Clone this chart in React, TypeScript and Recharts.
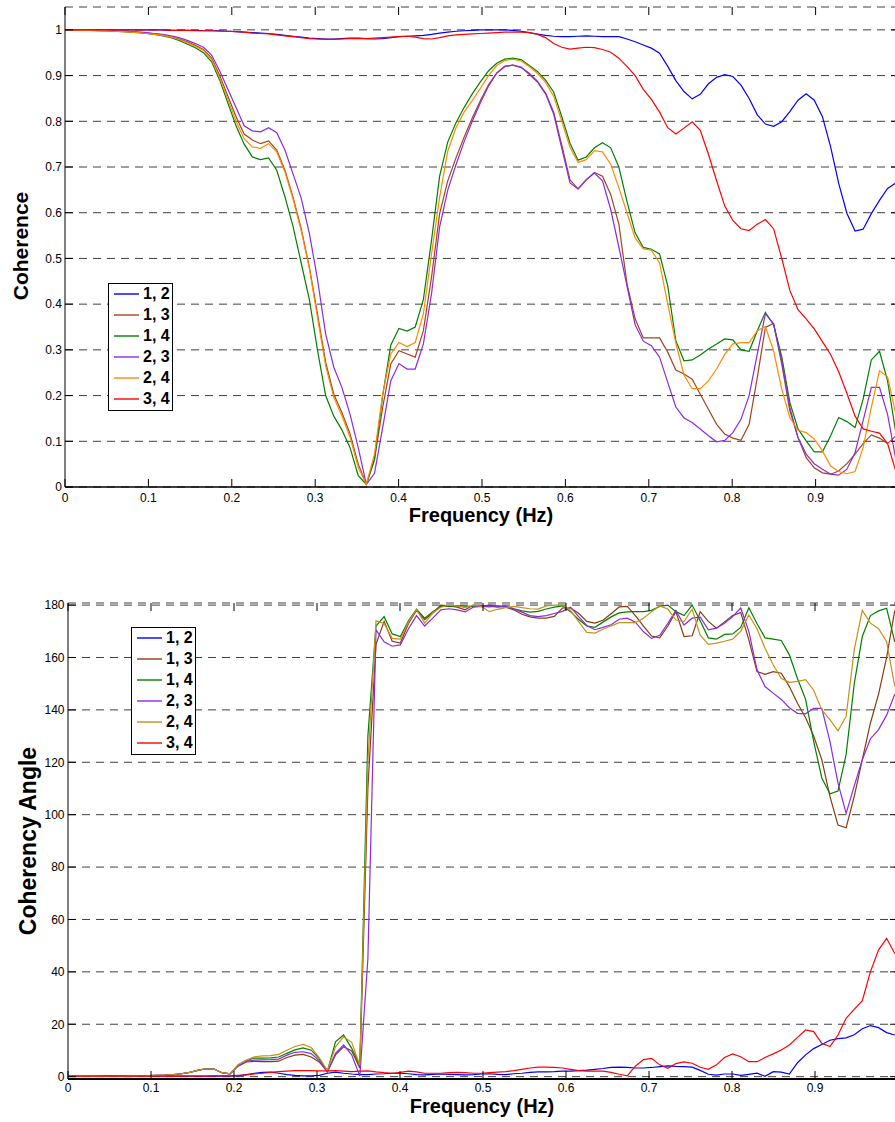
import React from 'react';
import { LineChart, Line, XAxis, YAxis, CartesianGrid, Legend, Label } from 'recharts';

const FONT = '"Liberation Sans", Arial, Helvetica, sans-serif';

// Frequency bins (Hz)
const FREQ = [0, 0.0098, 0.0195, 0.0293, 0.0391, 0.0488, 0.0586, 0.0684, 0.0781, 0.0879,
  0.0977, 0.1074, 0.1172, 0.127, 0.1367, 0.1465, 0.1563, 0.166, 0.1758, 0.1855,
  0.1953, 0.2051, 0.2148, 0.2246, 0.2344, 0.2441, 0.2539, 0.2637, 0.2734, 0.2832,
  0.293, 0.3027, 0.3125, 0.3223, 0.332, 0.3418, 0.3516, 0.3613, 0.3711, 0.3809,
  0.3906, 0.4004, 0.4102, 0.4199, 0.4297, 0.4395, 0.4492, 0.459, 0.4688, 0.4785,
  0.4883, 0.498, 0.5078, 0.5176, 0.5273, 0.5371, 0.5469, 0.5566, 0.5664, 0.5762,
  0.5859, 0.5957, 0.6055, 0.6152, 0.625, 0.6348, 0.6445, 0.6543, 0.6641, 0.6738,
  0.6836, 0.6934, 0.7031, 0.7129, 0.7227, 0.7324, 0.7422, 0.752, 0.7617, 0.7715,
  0.7813, 0.791, 0.8008, 0.8105, 0.8203, 0.8301, 0.8398, 0.8496, 0.8594, 0.8691,
  0.8789, 0.8887, 0.8984, 0.9082, 0.918, 0.9277, 0.9375, 0.9473, 0.957, 0.9668,
  0.9766, 0.9863, 0.9961];

// Coherence
const COH_12 = [1, 1, 1, 1, 1, 1, 1, 1, 1, 1,
  1, 1, 1, 0.999, 0.999, 0.999, 0.999, 0.998, 0.998, 0.998,
  0.997, 0.996, 0.995, 0.994, 0.993, 0.992, 0.99, 0.988, 0.986, 0.984,
  0.982, 0.981, 0.98, 0.98, 0.981, 0.982, 0.982, 0.981, 0.98, 0.981,
  0.983, 0.985, 0.986, 0.987, 0.988, 0.99, 0.993, 0.995, 0.997, 0.998,
  0.999, 1, 1, 1, 1, 0.999, 0.997, 0.994, 0.991, 0.988,
  0.986, 0.985, 0.985, 0.986, 0.987, 0.986, 0.985, 0.985, 0.985, 0.98,
  0.974, 0.967, 0.96, 0.949, 0.92, 0.889, 0.865, 0.849, 0.859, 0.882,
  0.896, 0.902, 0.898, 0.879, 0.85, 0.814, 0.794, 0.789, 0.799, 0.821,
  0.846, 0.86, 0.846, 0.81, 0.744, 0.664, 0.599, 0.56, 0.564, 0.598,
  0.627, 0.653, 0.665];
const COH_13 = [1, 1, 1, 0.999, 0.999, 0.998, 0.998, 0.997, 0.996, 0.995,
  0.993, 0.991, 0.989, 0.985, 0.98, 0.974, 0.966, 0.957, 0.938, 0.9,
  0.855, 0.81, 0.772, 0.759, 0.751, 0.757, 0.737, 0.693, 0.634, 0.565,
  0.481, 0.379, 0.273, 0.203, 0.163, 0.116, 0.05, 0.006, 0.061, 0.174,
  0.269, 0.298, 0.291, 0.284, 0.342, 0.459, 0.598, 0.67, 0.72, 0.765,
  0.807, 0.845, 0.88, 0.906, 0.92, 0.923, 0.918, 0.905, 0.888, 0.862,
  0.82, 0.748, 0.672, 0.652, 0.672, 0.688, 0.68, 0.64, 0.575, 0.445,
  0.368, 0.326, 0.326, 0.326, 0.295, 0.256, 0.247, 0.236, 0.203, 0.17,
  0.137, 0.116, 0.107, 0.102, 0.137, 0.24, 0.349, 0.358, 0.269, 0.167,
  0.108, 0.064, 0.042, 0.031, 0.028, 0.035, 0.051, 0.072, 0.095, 0.114,
  0.107, 0.095, 0.112];
const COH_14 = [1, 1, 0.999, 0.999, 0.998, 0.998, 0.997, 0.996, 0.995, 0.994,
  0.992, 0.99, 0.987, 0.983, 0.977, 0.969, 0.961, 0.95, 0.93, 0.89,
  0.84, 0.79, 0.75, 0.722, 0.716, 0.72, 0.693, 0.635, 0.57, 0.49,
  0.41, 0.3, 0.2, 0.155, 0.125, 0.086, 0.025, 0.006, 0.06, 0.2,
  0.31, 0.347, 0.341, 0.35, 0.41, 0.54, 0.68, 0.755, 0.797, 0.83,
  0.86, 0.886, 0.91, 0.927, 0.936, 0.938, 0.935, 0.922, 0.909, 0.89,
  0.864, 0.81, 0.752, 0.715, 0.722, 0.742, 0.753, 0.742, 0.7, 0.625,
  0.556, 0.524, 0.52, 0.51, 0.44, 0.32, 0.276, 0.278, 0.289, 0.302,
  0.313, 0.324, 0.322, 0.3, 0.297, 0.342, 0.382, 0.355, 0.285, 0.185,
  0.127, 0.101, 0.077, 0.077, 0.112, 0.152, 0.143, 0.13, 0.192, 0.278,
  0.297, 0.232, 0.12];
const COH_23 = [1, 1, 1, 0.999, 0.999, 0.998, 0.998, 0.997, 0.996, 0.995,
  0.994, 0.992, 0.99, 0.987, 0.983, 0.977, 0.97, 0.962, 0.945, 0.91,
  0.87, 0.83, 0.79, 0.779, 0.777, 0.786, 0.775, 0.737, 0.685, 0.632,
  0.555, 0.455, 0.335, 0.262, 0.218, 0.159, 0.086, 0.006, 0.03, 0.13,
  0.232, 0.27, 0.258, 0.258, 0.313, 0.423, 0.569, 0.65, 0.705, 0.755,
  0.8, 0.84, 0.877, 0.905, 0.92, 0.923, 0.918, 0.903, 0.886, 0.86,
  0.816, 0.74, 0.665, 0.652, 0.672, 0.687, 0.67, 0.607, 0.525, 0.44,
  0.355, 0.319, 0.309, 0.284, 0.229, 0.175, 0.151, 0.141, 0.127, 0.112,
  0.099, 0.102, 0.119, 0.148, 0.2, 0.291, 0.379, 0.357, 0.276, 0.174,
  0.108, 0.072, 0.051, 0.039, 0.028, 0.026, 0.039, 0.075, 0.145, 0.218,
  0.218, 0.159, 0.061];
const COH_24 = [1, 1, 0.999, 0.999, 0.998, 0.998, 0.997, 0.996, 0.995, 0.994,
  0.992, 0.99, 0.988, 0.984, 0.979, 0.972, 0.964, 0.955, 0.935, 0.895,
  0.848, 0.8, 0.762, 0.744, 0.741, 0.751, 0.733, 0.689, 0.63, 0.561,
  0.478, 0.371, 0.265, 0.196, 0.156, 0.109, 0.043, 0.006, 0.072, 0.203,
  0.291, 0.316, 0.307, 0.316, 0.379, 0.51, 0.634, 0.735, 0.786, 0.82,
  0.845, 0.872, 0.9, 0.922, 0.933, 0.936, 0.932, 0.92, 0.905, 0.885,
  0.855, 0.8, 0.743, 0.71, 0.716, 0.736, 0.733, 0.706, 0.655, 0.6,
  0.545, 0.521, 0.518, 0.49, 0.4, 0.315, 0.245, 0.215, 0.215, 0.232,
  0.258, 0.29, 0.313, 0.316, 0.316, 0.342, 0.351, 0.298, 0.214, 0.152,
  0.124, 0.119, 0.105, 0.079, 0.046, 0.034, 0.029, 0.034, 0.086, 0.174,
  0.254, 0.241, 0.16];
const COH_34 = [1, 1, 1, 1, 1, 1, 1, 1, 1, 1,
  1, 1, 1, 0.999, 0.999, 0.999, 0.998, 0.998, 0.998, 0.997,
  0.997, 0.996, 0.995, 0.993, 0.992, 0.991, 0.989, 0.987, 0.985, 0.983,
  0.981, 0.98, 0.979, 0.979, 0.98, 0.981, 0.981, 0.981, 0.982, 0.983,
  0.984, 0.985, 0.986, 0.984, 0.981, 0.98, 0.983, 0.987, 0.989, 0.99,
  0.991, 0.992, 0.993, 0.994, 0.995, 0.995, 0.995, 0.994, 0.99, 0.983,
  0.97, 0.962, 0.958, 0.96, 0.962, 0.961, 0.957, 0.951, 0.938, 0.92,
  0.9, 0.87, 0.848, 0.82, 0.786, 0.772, 0.785, 0.799, 0.78, 0.728,
  0.67, 0.615, 0.583, 0.565, 0.561, 0.575, 0.585, 0.565, 0.5, 0.43,
  0.388, 0.368, 0.346, 0.318, 0.29, 0.252, 0.205, 0.155, 0.127, 0.122,
  0.118, 0.095, 0.035];

// Coherency angle (degrees)
const ANG_12 = [0.1, 0.1, 0.1, 0.1, 0.2, 0.3, 0.4, 0.3, 0.2, 0.2,
  0.2, 0.2, 0.2, 0.2, 0.2, 0.2, 0.2, 0.2, 0.2, 0.2,
  0.2, 0.3, 0.8, 1.3, 1.6, 1.7, 1.3, 0.8, 0.5, 0.3,
  0.3, 0.5, 1.3, 1.7, 1.3, 1.0, 0.8, 0.8, 1.0, 1.1,
  1.3, 1.3, 1.1, 0.8, 0.7, 0.9, 1.0, 0.9, 0.8, 0.7,
  0.8, 1.0, 1.1, 0.9, 0.8, 1.1, 1.3, 1.6, 1.8, 1.8,
  1.9, 2.1, 2.1, 2.3, 2.5, 2.8, 3.1, 3.5, 3.6, 3.5,
  3.3, 3.3, 3.5, 3.8, 4.1, 3.9, 3.8, 3.6, 2.4, 0.9,
  0.6, 1.0, 1.0, 0.5, 0.9, 1.3, 0.1, 1.9, 1.7, 1.0,
  5.3, 8.3, 10.7, 12.3, 13.9, 14.5, 14.8, 16, 18.3, 19.5,
  18.7, 16.8, 15.9];
const ANG_13 = [0.1, 0.1, 0.1, 0.1, 0.1, 0.1, 0.2, 0.2, 0.3, 0.3,
  0.4, 0.5, 0.6, 0.8, 1.1, 1.6, 2.4, 3.0, 2.9, 1.5,
  1.1, 4.0, 5.6, 5.8, 5.7, 5.7, 5.9, 7.3, 8.2, 8.5,
  7.5, 5.6, 1.8, 8.3, 11.4, 9.8, 3.3, 110, 165, 173.8,
  166.2, 165.5, 173, 178, 174.4, 177, 180, 179.7, 179.2, 178.2,
  180, 179.5, 180, 179.6, 179.2, 178.2, 176.5, 175.5, 175, 175,
  175.7, 178.9, 178.9, 176.9, 173.8, 173.1, 174.2, 176.7, 179.3, 179.5,
  176, 172, 168.2, 167.5, 172, 177.5, 168, 168.3, 177.5, 173.8,
  171.2, 173.6, 176, 177.2, 166.7, 154.6, 153.6, 154.6, 154, 148.9,
  142.5, 137, 130, 121, 107, 96, 95, 107, 121, 135,
  146, 160, 178];
const ANG_14 = [0.1, 0.1, 0.1, 0.1, 0.1, 0.1, 0.2, 0.2, 0.3, 0.3,
  0.4, 0.5, 0.6, 0.8, 1.1, 1.6, 2.4, 3.0, 2.9, 1.5,
  1.1, 4.5, 6.1, 7.1, 7.1, 7.2, 7.5, 8.9, 10.2, 11.0,
  10.1, 6.9, 2.1, 13.3, 15.9, 10.8, 4.3, 130, 172, 175.6,
  169, 168, 174, 178.4, 175, 177.5, 179.5, 179.5, 179.8, 179.6,
  179.5, 179.8, 179.6, 179.2, 179.6, 178.6, 177.8, 177.3, 177.6, 178.5,
  179.2, 179.7, 177.5, 174.5, 172, 171.5, 173.5, 175.5, 177, 177.4,
  177.5, 177.5, 178, 179.5, 180, 177.5, 176, 180, 174, 167.5,
  167, 168.8, 169, 171.5, 179, 173, 167.5, 167, 166.5, 161,
  152, 144, 128, 114, 108, 109, 123, 150, 168, 176,
  177.8, 178.8, 166];
const ANG_23 = [0.1, 0.1, 0.1, 0.1, 0.1, 0.1, 0.2, 0.2, 0.3, 0.3,
  0.4, 0.5, 0.6, 0.8, 1.1, 1.6, 2.4, 3.0, 2.9, 1.5,
  1.1, 4.2, 5.8, 6.3, 6.4, 6.5, 6.7, 8.2, 9.3, 9.5,
  8.8, 6.1, 1.8, 8.9, 12.1, 8.3, 0.2, 45, 170.5, 166,
  164.3, 164.8, 171, 176, 172, 175, 178.2, 178.6, 178.2, 177.4,
  179.2, 179.5, 179.3, 179.7, 179.5, 178.6, 177.3, 176, 175.6, 176,
  176.8, 177.6, 179.2, 175.6, 172.2, 170.6, 171.5, 172.5, 174.6, 175,
  173.5, 169.8, 167.3, 168.5, 173, 178, 172.4, 175, 175.4, 170.6,
  171.2, 173.1, 175.6, 178.9, 170, 155.3, 148.9, 146.4, 144, 140.8,
  138.7, 138.5, 140.6, 140.6, 128, 112, 100.5, 111, 121, 129,
  132.5, 138, 146];
const ANG_24 = [0.1, 0.1, 0.1, 0.1, 0.1, 0.1, 0.2, 0.2, 0.3, 0.3,
  0.4, 0.5, 0.6, 0.8, 1.1, 1.6, 2.4, 3.0, 2.9, 1.5,
  1.1, 4.5, 6.3, 7.6, 7.9, 8.0, 8.5, 10.1, 11.5, 12.3,
  11.1, 7.3, 2.3, 11.4, 15.2, 13.1, 4.3, 120, 174, 173,
  167.3, 167, 173.5, 178.3, 173.1, 177, 179.2, 180, 179.7, 179,
  180, 179.5, 177.5, 178.4, 179, 179.5, 179, 178.6, 178.5, 179.7,
  180, 180, 178, 173.7, 169.6, 169.3, 170.8, 172, 173.3, 173.3,
  173.3, 175, 177.5, 179.7, 178.5, 174.3, 173.7, 178.4, 168.5, 165,
  165.5, 166.2, 167, 170, 176.2, 171, 163.5, 157.2, 152, 150.5,
  150.9, 151.5, 147.5, 140, 136.3, 132, 137.5, 163, 178, 173.1,
  171, 166, 149];
const ANG_34 = [0.2, 0.2, 0.2, 0.2, 0.2, 0.2, 0.2, 0.2, 0.2, 0.2,
  0.2, 0.2, 0.2, 0.2, 0.2, 0.2, 0.2, 0.2, 0.3, 0.3,
  0.3, 0.5, 0.7, 1.0, 1.3, 1.6, 1.9, 2.1, 2.3, 2.3,
  2.3, 2.2, 2.2, 2.3, 2.1, 1.9, 2.1, 2.2, 1.8, 1.5,
  1.3, 1.6, 2.1, 1.8, 1.3, 1.3, 1.3, 1.5, 1.6, 1.5,
  1.3, 1.3, 1.5, 1.7, 1.9, 2.3, 2.8, 3.3, 3.6, 3.6,
  3.5, 3.3, 2.8, 2.3, 2.1, 2.1, 2.1, 1.6, 0.9, 0.3,
  4.0, 6.5, 7.0, 4.5, 3.2, 5.0, 5.6, 5.1, 3.6, 2.8,
  4.5, 7.3, 8.7, 7.6, 5.7, 5.7, 7.3, 8.7, 10.2, 12.1,
  15.0, 17.8, 17.2, 12.7, 11.5, 15.9, 22.3, 25.7, 29.0, 40.1,
  48.4, 52.8, 47];

const PAIR_NAMES = ['1, 2', '1, 3', '1, 4', '2, 3', '2, 4', '3, 4'];
const KEYS = ['p12', 'p13', 'p14', 'p23', 'p24', 'p34'];
const TOP_COLORS = ['#0000ff', '#a0461e', '#008000', '#8a2be2', '#ff8c00', '#ff0000'];
const BOT_COLORS = ['#0000ff', '#8b3a10', '#008000', '#8a2be2', '#c8901a', '#ff0000'];

const X_TICKS = [0, 0.1, 0.2, 0.3, 0.4, 0.5, 0.6, 0.7, 0.8, 0.9];
const COH_TICKS = [0, 0.1, 0.2, 0.3, 0.4, 0.5, 0.6, 0.7, 0.8, 0.9, 1];
const ANG_TICKS = [0, 20, 40, 60, 80, 100, 120, 140, 160, 180];

const COH = [COH_12, COH_13, COH_14, COH_23, COH_24, COH_34];
const ANG = [ANG_12, ANG_13, ANG_14, ANG_23, ANG_24, ANG_34];

const buildRows = (series: number[][]) =>
  FREQ.map((f, i) => {
    const row: Record<string, number> = { f };
    KEYS.forEach((k, j) => { row[k] = series[j][i]; });
    return row;
  });

const topData = buildRows(COH);
const botData = buildRows(ANG);

const fmt = (v: number) => String(v);

const makeXTick = (top: number, bottom: number, dy: number) => (props: any) => {
  const { x, payload } = props;
  return (
    <g>
      <line x1={x} x2={x} y1={bottom} y2={bottom - 8} stroke="#000" strokeWidth={1} />
      <line x1={x} x2={x} y1={top} y2={top + 8} stroke="#000" strokeWidth={1} />
      <text x={x} y={bottom + dy} textAnchor="middle" fontSize={12} fontFamily={FONT} fill="#000">
        {fmt(payload.value)}
      </text>
    </g>
  );
};

const makeYTick = (left: number, right: number, gap: number) => (props: any) => {
  const { y, payload } = props;
  return (
    <g>
      <line x1={left} x2={left + 8} y1={y} y2={y} stroke="#000" strokeWidth={1} />
      <line x1={right - 8} x2={right} y1={y} y2={y} stroke="#000" strokeWidth={1} />
      <text x={left - gap} y={y} dy={4.3} textAnchor="end" fontSize={12} fontFamily={FONT} fill="#000">
        {fmt(payload.value)}
      </text>
    </g>
  );
};

const renderLegend = (props: any) => {
  const { payload } = props;
  return (
    <div style={{ width: 63, height: 126, border: '1px solid #000', background: '#fff', position: 'relative', fontFamily: FONT }}>
      {(payload || []).map((e: any, i: number) => (
        <div key={i} style={{ position: 'absolute', left: 5, top: i * 20.9, height: 20, display: 'flex', alignItems: 'center' }}>
          <svg width={26} height={20} style={{ display: 'block' }}>
            <line x1={0} x2={25} y1={10} y2={10} stroke={e.color} strokeWidth={1.4} />
          </svg>
          <span style={{ fontWeight: 'bold', fontSize: 16, color: '#000', marginLeft: 3, lineHeight: '20px', whiteSpace: 'nowrap' }}>{e.value}</span>
        </div>
      ))}
    </div>
  );
};

const TOP = { l: 65, r: 899, t: 7, b: 487 };
const BOT = { l: 68, r: 898, t: 7, b: 483 };

export default function App() {
  return (
    <div style={{ position: 'absolute', left: 0, top: 0, width: 895, height: 1122, overflow: 'hidden', background: '#fff' }}>
      <div style={{ position: 'absolute', left: 0, top: 0 }}>
        <LineChart width={910} height={530} data={topData} margin={{ top: 7, right: 11, bottom: 0, left: 0 }}>
          <CartesianGrid vertical={false} stroke="#404040" strokeDasharray="8 6" />
          <XAxis xAxisId="top" orientation="top" type="number" dataKey="f" domain={[0, 1]} height={0}
            tick={false} tickLine={false} axisLine={{ stroke: '#000', strokeWidth: 1 }} allowDataOverflow />
          <XAxis type="number" dataKey="f" domain={[0, 1]} ticks={X_TICKS} interval={0} height={43}
            tick={makeXTick(TOP.t, TOP.b, 15)} tickLine={false} axisLine={{ stroke: '#000', strokeWidth: 1.5 }} allowDataOverflow>
            <Label content={() => (
              <text x={481} y={522} textAnchor="middle" fontSize={20} fontWeight="bold" fontFamily={FONT} fill="#000">Frequency (Hz)</text>
            )} />
          </XAxis>
          <YAxis type="number" domain={[0, 1.05]} ticks={COH_TICKS} interval={0} width={65}
            tick={makeYTick(TOP.l, TOP.r, 3)} tickLine={false} axisLine={{ stroke: '#000', strokeWidth: 1 }} allowDataOverflow>
            <Label content={() => (
              <text x={28} y={246} transform="rotate(-90 28 246)" textAnchor="middle" fontSize={21} fontWeight="bold" fontFamily={FONT} fill="#000">Coherence</text>
            )} />
          </YAxis>
          <Legend layout="vertical" align="center" verticalAlign="middle" content={renderLegend}
            wrapperStyle={{ left: 108, top: 283, width: 65, height: 128 }} />
          {KEYS.map((k, j) => (
            <Line key={k} type="linear" dataKey={k} name={PAIR_NAMES[j]} stroke={TOP_COLORS[j]} strokeWidth={1.2}
              dot={false} activeDot={false} isAnimationActive={false} />
          ))}
        </LineChart>
      </div>
      <div style={{ position: 'absolute', left: 0, top: 596 }}>
        <LineChart width={910} height={526} data={botData} margin={{ top: 7, right: 12, bottom: 0, left: 0 }}>
          <CartesianGrid vertical={false} stroke="#404040" strokeDasharray="8 6" />
          <XAxis xAxisId="top" orientation="top" type="number" dataKey="f" domain={[0, 1]} height={0}
            tick={false} tickLine={false} axisLine={{ stroke: '#000', strokeWidth: 1.5 }} allowDataOverflow />
          <XAxis type="number" dataKey="f" domain={[0, 1]} ticks={X_TICKS} interval={0} height={43}
            tick={makeXTick(BOT.t, BOT.b, 13)} tickLine={false} axisLine={{ stroke: '#000', strokeWidth: 2 }} allowDataOverflow>
            <Label content={() => (
              <text x={482} y={517} textAnchor="middle" fontSize={20} fontWeight="bold" fontFamily={FONT} fill="#000">Frequency (Hz)</text>
            )} />
          </XAxis>
          <YAxis type="number" domain={[-0.9, 180.8]} ticks={ANG_TICKS} interval={0} width={68}
            tick={makeYTick(BOT.l, BOT.r, 3.5)} tickLine={false} axisLine={{ stroke: '#000', strokeWidth: 1 }} allowDataOverflow>
            <Label content={() => (
              <text x={36} y={245} transform="rotate(-90 36 245)" textAnchor="middle" fontSize={23} fontWeight="bold" fontFamily={FONT} fill="#000">Coherency Angle</text>
            )} />
          </YAxis>
          <Legend layout="vertical" align="center" verticalAlign="middle" content={renderLegend}
            wrapperStyle={{ left: 131, top: 31, width: 65, height: 128 }} />
          {KEYS.map((k, j) => (
            <Line key={k} type="linear" dataKey={k} name={PAIR_NAMES[j]} stroke={BOT_COLORS[j]} strokeWidth={1.2}
              dot={false} activeDot={false} isAnimationActive={false} />
          ))}
        </LineChart>
      </div>
    </div>
  );
}
